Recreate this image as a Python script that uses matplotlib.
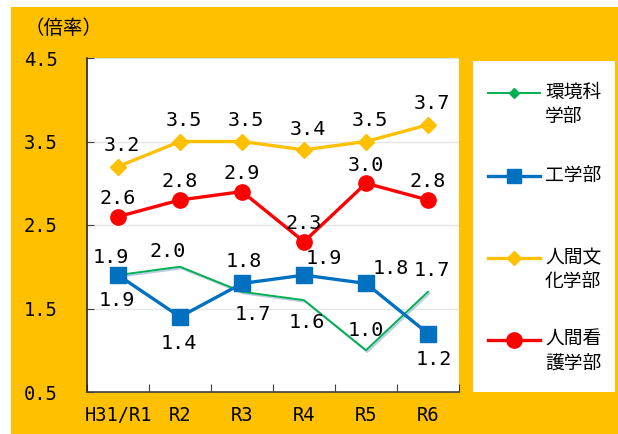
import matplotlib
matplotlib.use('Agg')
import matplotlib.pyplot as plt
import matplotlib.patheffects as pe
from matplotlib.patches import Rectangle

# データ
years = ['H31/R1', 'R2', 'R3', 'R4', 'R5', 'R6']
kankyo = [1.9, 2.0, 1.7, 1.6, 1.0, 1.7]      # 環境科学部
kogaku = [1.9, 1.4, 1.8, 1.9, 1.8, 1.2]      # 工学部
ningen_bunka = [3.2, 3.5, 3.5, 3.4, 3.5, 3.7]  # 人間文化学部
ningen_kango = [2.6, 2.8, 2.9, 2.3, 3.0, 2.8]  # 人間看護学部

names = ['環境科\n学部', '工学部', '人間文\n化学部', '人間看\n護学部']

JP = 'Noto Sans CJK JP'
NUM = 'DejaVu Sans Mono'

fig = plt.figure(figsize=(6.18, 4.34), dpi=100, facecolor='white')
# 黄色の背景
fig.patches.append(Rectangle((11 / 618, 0), 1, 1 - 7 / 434, transform=fig.transFigure,
                             facecolor='#FFC000', edgecolor='none', zorder=-10))

ax = fig.add_axes([87 / 618, 42 / 434, 372 / 618, 334 / 434])
ax.set_facecolor('white')

x = [i + 0.5 for i in range(len(years))]

ax.plot(x, kankyo, color='#00B050', lw=1.4, zorder=3,
        path_effects=[pe.SimpleLineShadow(offset=(1, -1.2), shadow_color='#8fa8d8', alpha=0.6),
                      pe.Normal()])
ax.plot(x, kogaku, color='#0070C0', lw=2.4, marker='s', ms=11, zorder=4)
ax.plot(x, ningen_bunka, color='#FFC000', lw=2.4, marker='D', ms=8, zorder=4)
ax.plot(x, ningen_kango, color='#FF0000', lw=2.4, marker='o', ms=11, zorder=4)

# ラベル位置 (offset points)
def lab(xs, ys, offs):
    for xi, yi, (dx, dy) in zip(xs, ys, offs):
        ax.annotate(f'{yi:.1f}', (xi, yi), xytext=(dx, dy), textcoords='offset points',
                    ha='center', va='center', fontsize=14.5, family=NUM, zorder=6)

lab(x, ningen_bunka, [(3, 15)] * 6)
lab(x, ningen_kango, [(0, 13)] * 6)
lab(x, kogaku, [(-5, 13), (-1, -19), (1, 16), (14, 12), (18, 11), (4, -19)])
lab(x, kankyo, [(-1, -18), (-9, 11), (8, -16), (2, -16), (0, 14), (3, 15)])

ax.set_xlim(0, 6)
ax.set_ylim(0.5, 4.5)
ax.set_xticks(range(7))
ax.set_xticklabels([])
ax.set_xticks(x, minor=True)
ax.set_xticklabels(years, minor=True, family=NUM, fontsize=13.5)
ax.tick_params(axis='x', which='major', direction='in', length=6, color='#404040')
ax.tick_params(axis='x', which='minor', length=0, pad=10)
ax.set_yticks([0.5, 1.5, 2.5, 3.5, 4.5])
ax.set_yticklabels(['0.5', '1.5', '2.5', '3.5', '4.5'], family=NUM, fontsize=13.5)
ax.tick_params(axis='y', direction='in', length=5, pad=21, color='#404040')
ax.grid(axis='y', color='#e6e6e6', lw=1)
ax.set_axisbelow(True)
for s in ['top', 'right']:
    ax.spines[s].set_visible(False)
ax.spines['left'].set_color('#222222')
ax.spines['bottom'].set_color('#404040')
ax.spines['left'].set_linewidth(1.2)
ax.spines['bottom'].set_linewidth(1.2)

fig.text(25 / 618, 1 - 29 / 434, '（倍率）', family=JP, fontsize=14, va='center', ha='left')

# 凡例 (手作り)
lax = fig.add_axes([473 / 618, 42 / 434, 142 / 618, 331 / 434])
lax.set_facecolor('white')
lax.set_xlim(473, 615)
lax.set_ylim(392, 61)
lax.set_xticks([])
lax.set_yticks([])
for s in lax.spines.values():
    s.set_visible(False)

leg_y = [93, 176, 258, 340]
leg_style = [('#00B050', 1.4, 'D', 5.5), ('#0070C0', 2.4, 's', 10),
             ('#FFC000', 2.4, 'D', 7), ('#FF0000', 2.4, 'o', 11)]
for yy, name, (c, lw, m, ms) in zip(leg_y, names, leg_style):
    lax.plot([488, 514, 540], [yy] * 3, color=c, lw=lw, marker=m, ms=ms, markevery=[1])
    lax.text(545, yy - 11, name, family=JP, fontsize=13.5, va='top', ha='left', linespacing=1.2)

fig.savefig('out.png', dpi=100, facecolor='white')
